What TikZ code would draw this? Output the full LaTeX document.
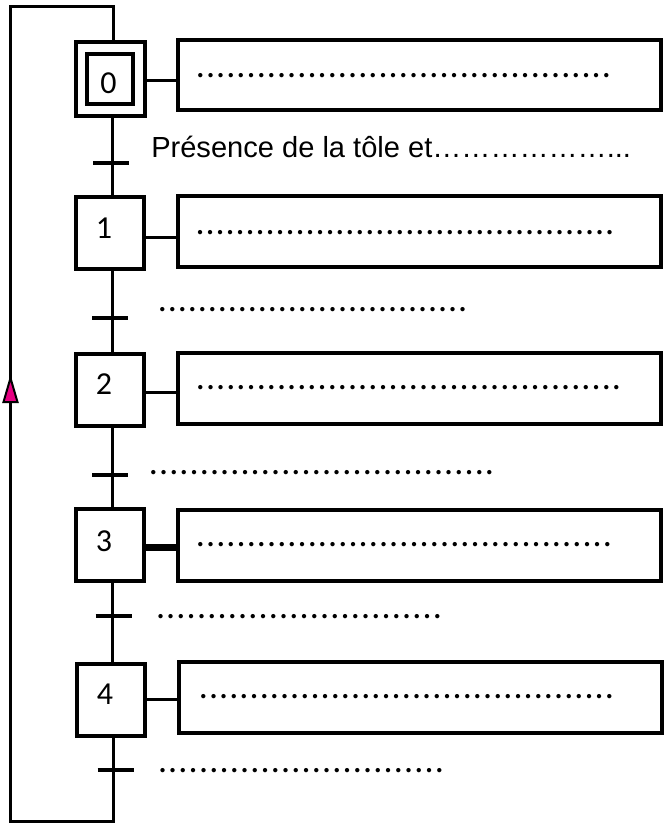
\documentclass[tikz,border=0pt]{standalone}
\usepackage{fontspec}
\setmainfont{Liberation Sans}
\newfontfamily\stepfont{Carlito}
\newcommand\dotrow[1]{\hbox to #1{\xleaders\hbox to 7.5pt{\hss.\hss}\hfill}}
\begin{document}
\begin{tikzpicture}[x=0.75pt,y=-0.75pt,
  stepbox/.style={draw,line width=3pt,minimum width=51pt,minimum height=54pt,inner sep=0pt,outer sep=0pt},
  actbox/.style={draw,line width=3pt,minimum width=362.25pt,minimum height=53.25pt,inner sep=0pt,outer sep=0pt},
  num/.style={font=\stepfont\fontsize{24}{27}\selectfont,inner sep=0pt},
  dots/.style={font=\stepfont\fontsize{27}{30}\selectfont,inner sep=0pt,anchor=base west},
  link/.style={line width=2.25pt},
  tick/.style={line width=2.4pt}]
\useasboundingbox (0,0) rectangle (664,824);
% steps
\node[stepbox,minimum width=51.75pt,minimum height=54.75pt] (s0) at (110,79) {};
\node[stepbox,minimum width=34.5pt,minimum height=37.5pt] (s0i) at (110,79) {};
\node[stepbox] (s1) at (110,233) {};
\node[stepbox] (s2) at (110,390) {};
\node[stepbox] (s3) at (110,545) {};
\node[stepbox] (s4) at (111,700) {};
\node[num] (n0) at (108.5,83) {0};
\node[num] (n1) at (104,228) {1};
\node[num] (n2) at (104,384) {2};
\node[num] (n3) at (104,541) {3};
\node[num] (n4) at (105,694) {4};
% actions
\node[actbox,minimum height=52.5pt] (a0) at (419.5,75) {};
\node[actbox] (a1) at (419,231.5) {};
\node[actbox] (a2) at (419,388.5) {};
\node[actbox] (a3) at (419,545.5) {};
\node[actbox] (a4) at (420,697.5) {};
\draw[link] ([yshift=-1.5pt]s0.east) -- ([yshift=-1.5pt]s0.east -| a0.west);
\draw[link] ([yshift=-3pt]s1.east) -- ([yshift=-3pt]s1.east -| a1.west);
\draw[link] ([yshift=-1.5pt]s2.east) -- ([yshift=-1.5pt]s2.east -| a2.west);
\draw[line width=5.25pt] ([yshift=-1.5pt]s3.east) -- ([yshift=-1.5pt]s3.east -| a3.west);
\draw[link] ([yshift=0.75pt]s4.east) -- ([yshift=0.75pt]s4.east -| a4.west);
% links between steps
\draw[link] ([xshift=1.5pt]s0.south) -- ([xshift=1.5pt]s1.north);
\draw[link] ([xshift=1.5pt]s1.south) -- ([xshift=1.5pt]s2.north);
\draw[link] ([xshift=1.5pt]s2.south) -- ([xshift=1.5pt]s3.north);
\draw[link] ([xshift=1.5pt]s3.south) -- ([xshift=1.5pt]s3.south |- s4.north);
% transitions
\coordinate (t0) at (111,163);
\coordinate (t1) at (110,318);
\coordinate (t2) at (110,475);
\coordinate (t3) at (113.5,616);
\coordinate (t4) at (115.5,770);
\foreach \t in {t0,t1,t2,t3,t4}
  \draw[tick] ([xshift=-13.5pt]\t) -- ([xshift=13.5pt]\t);
% loop back
\coordinate (bl) at (10.5,821.5);
\coordinate (tl) at (10.5,6.5);
\draw[link] ([xshift=1.5pt]s4.south) |- (bl) -- (tl) -| ([xshift=2.25pt]s0.north);
\draw[line width=1.5pt,fill={rgb,255:red,230;green,0;blue,130},line join=miter]
  (3.5,402) -- (10.5,378) -- (17.5,402) -- cycle;
% texts
\node[anchor=base west,inner sep=0pt,font=\fontsize{21.8}{24}\selectfont] (r0) at (151,157)
  {Présence de la tôle et………………...};
\node[dots] (d0) at (195,77.5) {\dotrow{312.75pt}};
\node[dots] (d1) at (195,234.5) {\dotrow{315pt}};
\node[dots] (r1) at (157,311.5) {\dotrow{233.25pt}};
\node[dots] (d2) at (195,389.5) {\dotrow{320.25pt}};
\node[dots] (r2) at (148,474.5) {\dotrow{260.25pt}};
\node[dots] (d3) at (195,546.5) {\dotrow{313.5pt}};
\node[dots] (r3) at (155,618.5) {\dotrow{216pt}};
\node[dots] (d4) at (198,698.5) {\dotrow{312.75pt}};
\node[dots] (r4) at (157,772.5) {\dotrow{216pt}};
\end{tikzpicture}
\end{document}
